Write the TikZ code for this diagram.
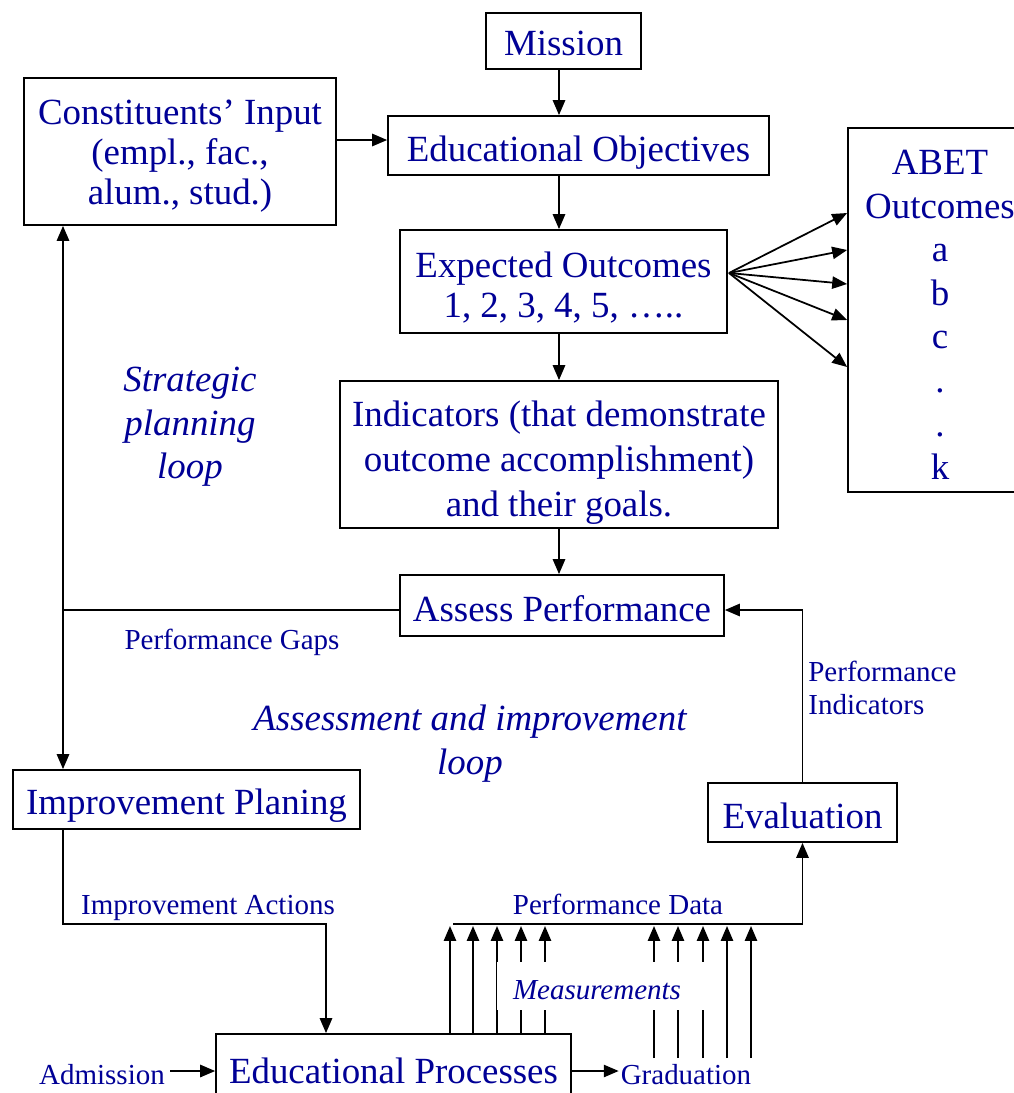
\documentclass[tikz,border=0pt]{standalone}
\usepackage{fontspec}
\setmainfont{Liberation Serif}
\usetikzlibrary{arrows.meta}
\definecolor{textBlue}{RGB}{0,0,150}
\newcommand{\bigFont}{\fontsize{21}{23}\selectfont}
\newcommand{\smallFont}{\fontsize{16.5}{19}\selectfont}

\begin{document}
\begin{tikzpicture}[%%
  x=0.02cm,y=-0.02cm,%%
  lineStyle/.style={line width=1pt,black},%%
  arrowStyle/.style={lineStyle,-{Triangle[length=8.5pt,width=7pt]}},%%
  boxStyle/.style={draw,line width=1pt,inner sep=0pt},%%
  textStyle/.style={text=textBlue,font=\bigFont,align=center,inner sep=0pt},%%
  labelStyle/.style={text=textBlue,font=\smallFont,inner sep=0pt}
]
\useasboundingbox (0,0) rectangle (1014,1093);
%%
%% Boxes of the strategic planning loop.
\node[boxStyle,minimum width=3.1cm,minimum height=1.12cm] (mission) at (563.5,41) {};
\node[textStyle] (missionText) at (563.5,43) {Mission};
\node[boxStyle,minimum width=6.24cm,minimum height=2.94cm] (input) at (180,151.5) {};
\node[textStyle,font=\fontsize{21}{22.8}\selectfont] (inputText) at (180,156.5)
  {Constituents’ Input\\(empl., fac.,\\alum., stud.)};
\node[boxStyle,minimum width=7.62cm,minimum height=1.18cm] (objectives) at (578.5,145.5) {};
\node[textStyle] (objectivesText) at (578.5,152.5) {Educational Objectives};
\node[boxStyle,minimum width=3.68cm,minimum height=7.28cm] (abet) at (940,310) {};
\node[textStyle,font=\fontsize{21}{24.8}\selectfont] (abetText) at (940,315)
  {ABET\\Outcomes\\a\\b\\c\\.\\.\\k};
\node[boxStyle,minimum width=6.54cm,minimum height=2.06cm] (expected) at (563.5,281.5) {};
\node[textStyle,font=\fontsize{21}{22.8}\selectfont] (expectedText) at (563.5,288)
  {Expected Outcomes\\1, 2, 3, 4, 5, …..};
\node[boxStyle,minimum width=8.76cm,minimum height=2.94cm] (indicators) at (559,454.5) {};
\node[textStyle,font=\fontsize{21}{25.6}\selectfont] (indicatorsText) at (559,462.5)
  {Indicators (that demonstrate\\outcome accomplishment)\\and their goals.};
%% Boxes of the assessment loop.
\node[boxStyle,minimum width=6.48cm,minimum height=1.22cm] (assess) at (562,605.5) {};
\node[textStyle] (assessText) at (562,608.5) {Assess Performance};
\node[boxStyle,minimum width=6.94cm,minimum height=1.18cm] (improve) at (186.5,799.5) {};
\node[textStyle] (improveText) at (186.5,805.5) {Improvement Planing};
\node[boxStyle,minimum width=3.78cm,minimum height=1.18cm] (evaluation) at (802.5,812.5) {};
\node[textStyle] (evaluationText) at (802.5,815.5) {Evaluation};
\node[boxStyle,minimum width=7.1cm,minimum height=1.48cm] (processes) at (393.5,1071) {};
\node[textStyle] (processesText) at (393.5,1071) {Educational Processes};
%%
%% Labels.
\node[labelStyle] (gaps) at (232,642) {Performance Gaps};
\node[labelStyle] (actions) at (208,908) {Improvement Actions};
\node[labelStyle] (dataLabel) at (618,904) {Performance Data};
\node[labelStyle,align=left,anchor=west,font=\fontsize{16.5}{18.8}\selectfont]
  (indicLabel) at (808,688) {Performance\\Indicators};
\node[labelStyle] (admission) at (102,1075) {Admission};
\node[labelStyle] (graduation) at (686,1075) {Graduation};
\node[textStyle,font=\fontsize{21}{24.8}\selectfont\itshape] (strategic) at (190,427) {Strategic\\planning\\loop};
\node[textStyle,font=\fontsize{21}{25}\selectfont\itshape] (assessLoop) at (470,744) {Assessment and improvement\\loop};
%%
%% Coordinates of the connectors.
\coordinate (spine) at (559,0);
\coordinate (fan) at (729,273);
\coordinate (gapCorner) at (63,610);
\coordinate (actCorner) at (326,924);
\coordinate (dataStart) at (453,924);
\coordinate (inputLevel) at (0,140);
%%
%% Main chain.
\draw[arrowStyle] (mission.south -| spine) -- (objectives.north -| spine);
\draw[arrowStyle] (objectives.south -| spine) -- (expected.north -| spine);
\draw[arrowStyle] (expected.south -| spine) -- (indicators.north -| spine);
\draw[arrowStyle] (indicators.south -| spine) -- (assess.north -| spine);
\draw[arrowStyle] (input.east |- inputLevel) -- (objectives.west |- inputLevel);
%% Expected outcomes map onto the ABET outcomes.
\foreach \y in {213,250,284,320,367}{
  \coordinate (level) at (0,\y);
  \draw[arrowStyle] (fan) -- (abet.west |- level);
}
%% Performance gaps.
\draw[lineStyle] (assess.west |- gapCorner) -- (gapCorner);
\draw[arrowStyle] (gapCorner) -- (input.south -| gapCorner);
\draw[arrowStyle] (gapCorner) -- (improve.north -| gapCorner);
%% Improvement actions.
\draw[arrowStyle] (improve.south -| gapCorner) |- (actCorner) -- (processes.north -| actCorner);
%% Performance data and indicators.
\draw[arrowStyle] (dataStart) -| (evaluation.south);
\draw[arrowStyle] (evaluation.north) |- (assess.east |- gapCorner);
%% Measurements.
\foreach \x in {450,473,497,521,545}{
  \coordinate (m\x) at (\x,926);
  \draw[arrowStyle] (processes.north -| m\x) -- (m\x);
}
\foreach \x in {654,678,703,727,751}{
  \coordinate (m\x) at (\x,926);
  \coordinate (g\x) at (\x,1058);
  \draw[arrowStyle] (g\x) -- (m\x);
}
\node[fill=white,inner sep=0pt,minimum width=4.16cm,minimum height=0.96cm] (measure) at (601,986) {};
\node[labelStyle,font=\smallFont\itshape] (measureText) at (597,990) {Measurements};
%% Admission and graduation.
\draw[arrowStyle] ([xshift=3pt]admission.east |- processes.west) -- (processes.west);
\draw[arrowStyle] (processes.east) -- ([xshift=-1pt]graduation.west |- processes.east);
\end{tikzpicture}
\end{document}
